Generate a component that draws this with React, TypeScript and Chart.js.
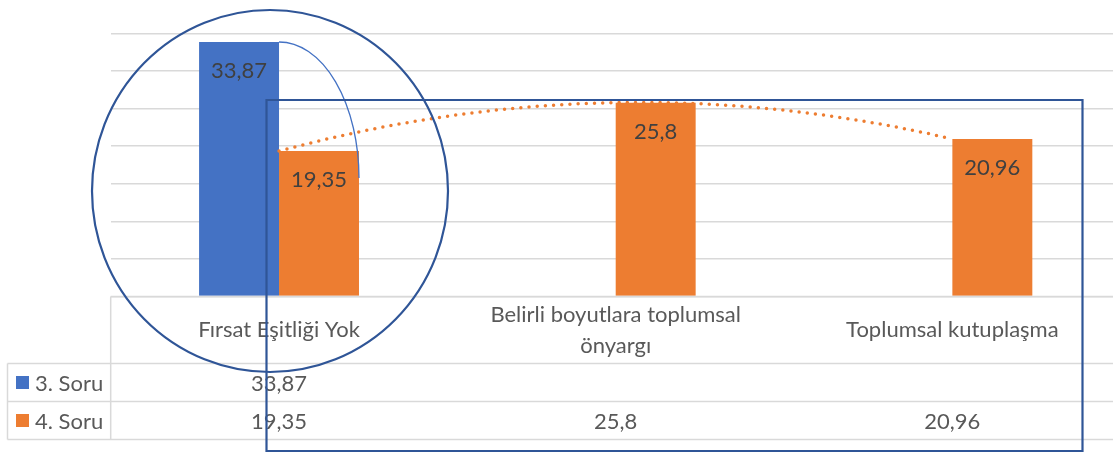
import React, { useEffect, useRef } from 'react';
import { Chart, registerables } from 'chart.js';

Chart.register(...registerables);

// ---- data ----
const categories = ['Fırsat Eşitliği Yok', 'Belirli boyutlara toplumsal önyargı', 'Toplumsal kutuplaşma'];
const seriesNames = ['3. Soru', '4. Soru'];
const soru3: (number | null)[] = [33.87, null, null];
const soru4: (number | null)[] = [19.35, 25.8, 20.96];
const yMin = 0;
const yMax = 35;
const yStep = 5;

// ---- style ----
const BLUE = '#4472C4';
const ORANGE = '#ED7D31';
const SHAPE = '#2F5597';
const GRID = '#D9D9D9';
const TEXT = '#595959';
const LABEL = '#404040';
const FONT = 'Lato, "Noto Sans", sans-serif';

const fmt = (v: number) => String(v).replace('.', ',');

function wrap(ctx: CanvasRenderingContext2D, text: string, maxW: number): string[] {
  const words = text.split(' ');
  const lines: string[] = [];
  let cur = '';
  for (const w of words) {
    const t = cur ? cur + ' ' + w : w;
    if (ctx.measureText(t).width > maxW && cur) {
      lines.push(cur);
      cur = w;
    } else cur = t;
  }
  if (cur) lines.push(cur);
  return lines;
}

const overlayPlugin = {
  id: 'overlay',
  afterDraw(chart: any) {
    const ctx: CanvasRenderingContext2D = chart.ctx;
    const ca = chart.chartArea;
    const xs = chart.scales.x;
    const ys = chart.scales.y;
    const colW = xs.width / categories.length;
    ctx.save();

    // ---- data labels inside bars ----
    ctx.font = `22px ${FONT}`;
    ctx.fillStyle = LABEL;
    ctx.textAlign = 'center';
    ctx.textBaseline = 'middle';
    chart.data.datasets.forEach((ds: any, di: number) => {
      const meta = chart.getDatasetMeta(di);
      meta.data.forEach((bar: any, i: number) => {
        const v = ds.data[i];
        if (v == null) return;
        ctx.fillText(fmt(v), bar.x, bar.y + 29);
      });
    });

    // ---- data table ----
    const top = ca.bottom;
    const headerH = 67;
    const rowH = 38;
    const r1 = top + headerH;
    const r2 = r1 + rowH;
    const r3 = r2 + rowH;
    const leftX = 7.5;
    ctx.strokeStyle = GRID;
    ctx.lineWidth = 1.5;
    ctx.beginPath();
    ctx.moveTo(ca.left, top); ctx.lineTo(ca.right, top);
    ctx.moveTo(leftX, r1); ctx.lineTo(ca.right, r1);
    ctx.moveTo(leftX, r2); ctx.lineTo(ca.right, r2);
    ctx.moveTo(leftX, r3); ctx.lineTo(ca.right, r3);
    ctx.moveTo(ca.left, top); ctx.lineTo(ca.left, r3);
    ctx.moveTo(leftX, r1); ctx.lineTo(leftX, r3);
    ctx.stroke();

    ctx.font = `22px ${FONT}`;
    ctx.fillStyle = TEXT;
    ctx.textAlign = 'center';
    ctx.textBaseline = 'middle';
    const lh = 31;
    categories.forEach((c, i) => {
      const cx = xs.getPixelForValue(i);
      const lines = wrap(ctx, c, colW * 0.86);
      const midY = top + headerH / 2;
      lines.forEach((ln, k) => {
        ctx.fillText(ln, cx, midY + (k - (lines.length - 1) / 2) * lh);
      });
    });
    const rows = [soru3, soru4];
    const colors = [BLUE, ORANGE];
    rows.forEach((vals, ri) => {
      const cy = r1 + rowH * ri + rowH / 2;
      ctx.fillStyle = colors[ri];
      ctx.fillRect(16, cy - 6.5, 13, 13);
      ctx.fillStyle = TEXT;
      ctx.textAlign = 'left';
      ctx.fillText(seriesNames[ri], 35, cy + 1);
      ctx.textAlign = 'center';
      vals.forEach((v, i) => {
        if (v == null) return;
        ctx.fillText(fmt(v), xs.getPixelForValue(i), cy + 1);
      });
    });

    // ---- polynomial (order 2) trendline of 4. Soru ----
    const pts = soru4.map((v, i) => ({ t: i, v: v as number }));
    const f = (t: number) => {
      let s = 0;
      for (let j = 0; j < pts.length; j++) {
        let l = 1;
        for (let k = 0; k < pts.length; k++) if (k !== j) l *= (t - pts[k].t) / (pts[j].t - pts[k].t);
        s += pts[j].v * l;
      }
      return s;
    };
    ctx.strokeStyle = ORANGE;
    ctx.lineWidth = 3.5;
    ctx.lineCap = 'round';
    ctx.setLineDash([0, 8.2]);
    ctx.beginPath();
    const N = 200;
    for (let s = 0; s <= N; s++) {
      const t = (s / N) * (pts.length - 1);
      const px = xs.getPixelForValue(t);
      const py = ys.getPixelForValue(f(t));
      if (s === 0) ctx.moveTo(px, py); else ctx.lineTo(px, py);
    }
    ctx.stroke();
    ctx.setLineDash([]);
    ctx.lineCap = 'butt';

    // ---- blue arc connector ----
    const blueBar = chart.getDatasetMeta(0).data[0];
    const orBar = chart.getDatasetMeta(1).data[0];
    const sx = blueBar.x + blueBar.width / 2;
    const sy = blueBar.y;
    const ex = orBar.x + orBar.width / 2;
    const ey = orBar.y + 27;
    ctx.strokeStyle = BLUE;
    ctx.lineWidth = 1.3;
    ctx.beginPath();
    ctx.ellipse(sx, ey, ex - sx, ey - sy, 0, -Math.PI / 2, 0);
    ctx.stroke();

    // ---- annotation shapes ----
    ctx.strokeStyle = SHAPE;
    ctx.lineWidth = 2.2;
    ctx.beginPath();
    ctx.ellipse(270, 191, 178, 181, 0, 0, Math.PI * 2);
    ctx.stroke();
    ctx.beginPath();
    ctx.rect(266.5, 100, 816, 351);
    ctx.stroke();

    ctx.restore();
  },
};

export default function App() {
  const ref = useRef<HTMLCanvasElement | null>(null);
  useEffect(() => {
    if (!ref.current) return;
    const chart = new Chart(ref.current, {
      type: 'bar',
      data: {
        labels: categories,
        datasets: [
          { label: seriesNames[0], data: soru3, backgroundColor: BLUE, borderWidth: 0 },
          { label: seriesNames[1], data: soru4, backgroundColor: ORANGE, borderWidth: 0 },
        ],
      },
      options: {
        responsive: false,
        animation: false,
        devicePixelRatio: 1,
        layout: { padding: { left: 110.7, right: 9.3, top: 33.5, bottom: 156.5 } },
        categoryPercentage: 0.475,
        barPercentage: 1,
        plugins: { legend: { display: false }, tooltip: { enabled: false }, title: { display: false } },
        scales: {
          x: { display: false },
          y: {
            min: yMin,
            max: yMax,
            ticks: { display: false, stepSize: yStep },
            grid: { color: GRID, lineWidth: 1.5, drawTicks: false },
            border: { display: false },
            afterFit: (s: any) => { s.width = 0; },
          },
        },
      } as any,
      plugins: [overlayPlugin],
    });
    return () => chart.destroy();
  }, []);
  return (
    <div style={{ position: 'fixed', left: 0, top: 0, width: 1113, height: 453, overflow: 'hidden', background: '#fff' }}>
      <canvas ref={ref} width={1130} height={453} style={{ display: 'block' }} />
    </div>
  );
}
